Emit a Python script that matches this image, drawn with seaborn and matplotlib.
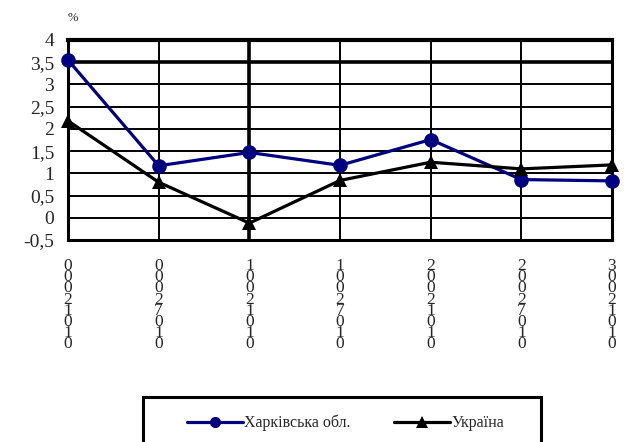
import matplotlib
matplotlib.use("Agg")
import matplotlib.pyplot as plt
from matplotlib.patches import Rectangle
import numpy as np
import pandas as pd
import seaborn as sns

# ── data ─────────────────────────────────────────────────────────────────────
first_digit = ["0", "0", "1", "1", "2", "2", "3"]
month_digit = ["1", "7", "1", "7", "1", "7", "1"]
kharkiv = [3.55, 1.17, 1.47, 1.18, 1.76, 0.86, 0.83]
ukraine = [2.18, 0.80, -0.12, 0.84, 1.25, 1.10, 1.19]
yticks = [-0.5, 0, 0.5, 1, 1.5, 2, 2.5, 3, 3.5, 4]

# the x labels in the source are stacked, overlapping characters
xlabels = [f"{a}\n0\n0\n2\n{m}\n0\n1\n0" for a, m in zip(first_digit, month_digit)]
pos = np.arange(len(xlabels))

df = pd.DataFrame({
    "pos": np.concatenate([pos, pos]),
    "val": kharkiv + ukraine,
    "region": ["Харківська обл."] * len(pos) + ["Україна"] * len(pos),
})

sns.set_theme(style="white")
plt.rcParams["font.family"] = ["Liberation Serif", "DejaVu Serif"]

fig = plt.figure(figsize=(6.26, 4.42), dpi=100)
ax = fig.add_axes([68 / 626, 1 - 240 / 442, 544 / 626, 200 / 442])

sns.lineplot(data=df, x="pos", y="val", hue="region", style="region",
             palette={"Харківська обл.": "#000080", "Україна": "black"},
             markers={"Харківська обл.": "o", "Україна": "^"},
             dashes=False, linewidth=2.3, markersize=10.5, markeredgewidth=0,
             ax=ax, legend=False, zorder=5, clip_on=False)

ax.set_xlim(pos[0], pos[-1])
ax.set_ylim(yticks[0], yticks[-1])
ax.set_yticks(yticks)
ax.set_yticklabels([f"{t:g}".replace(".", ",") for t in yticks], fontsize=14)
ax.set_xticks(pos)
ax.set_xticklabels(xlabels, fontsize=12.5, linespacing=0.6, va="top")
ax.tick_params(axis="x", length=0, pad=13)
ax.tick_params(axis="y", length=0, pad=10)
ax.set_xlabel("")
ax.set_ylabel("")

# grid like the spreadsheet chart
for t in yticks:
    lw = 2.6 if t == 3.5 else 1.4
    ax.axhline(t, color="black", lw=lw, zorder=1)
for p in pos:
    lw = 2.6 if p == 2 else 1.4
    ax.axvline(p, color="black", lw=lw, zorder=1)
for s in ax.spines.values():
    s.set_linewidth(2.2)
    s.set_color("black")
ax.spines["top"].set_linewidth(3)

fig.text(73 / 626, 1 - 18 / 442, "%", fontsize=9, ha="center", va="center")

# legend box, cut off by the bottom edge as in the source
fig.patches.append(Rectangle((143 / 626, -0.05), 398 / 626, 0.05 + 1 - 397 / 442,
                             transform=fig.transFigure, fill=False,
                             lw=2.2, edgecolor="black"))
leg_handles = [
    plt.Line2D([], [], color="#000080", lw=2.3, marker="o", markersize=8, markeredgewidth=0),
    plt.Line2D([], [], color="black", lw=2.3, marker="^", markersize=8, markeredgewidth=0),
]
fig.legend(leg_handles, ["Харківська обл.", "Україна"], ncol=2, frameon=False,
           loc="center left", bbox_to_anchor=(187 / 626, 1 - 423 / 442),
           borderpad=0, borderaxespad=0,
           fontsize=11.5, handlelength=3.5, handletextpad=0.1, columnspacing=2.7)

fig.savefig("out.png", dpi=100)
